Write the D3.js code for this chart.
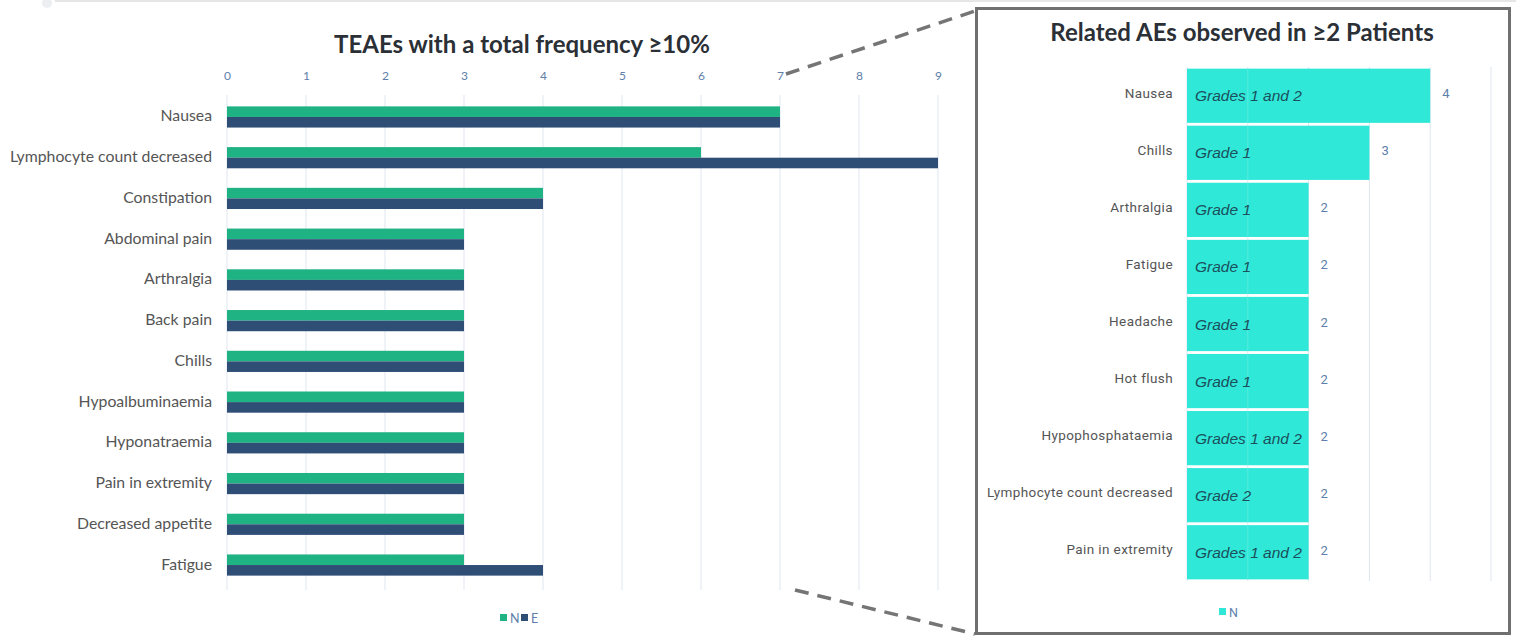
<!DOCTYPE html>
<html>
<head>
<meta charset="utf-8">
<script src="https://cdn.jsdelivr.net/npm/d3@7"></script>
<style>
  html, body { margin: 0; padding: 0; background: #fff; }
  svg { display: block; }
</style>
</head>
<body>
<svg id="chart" width="1516" height="637"></svg>
<script>
// ---- Left chart: TEAEs with a total frequency >= 10% ----
const teaeCategories = ["Nausea", "Lymphocyte count decreased", "Constipation", "Abdominal pain",
  "Arthralgia", "Back pain", "Chills", "Hypoalbuminaemia", "Hyponatraemia",
  "Pain in extremity", "Decreased appetite", "Fatigue"];
const teaeN = [7, 6, 4, 3, 3, 3, 3, 3, 3, 3, 3, 3];
const teaeE = [7, 9, 4, 3, 3, 3, 3, 3, 3, 3, 3, 4];
const teaeTicks = [0, 1, 2, 3, 4, 5, 6, 7, 8, 9];
const teaeSeries = ["N", "E"];

// ---- Right chart: Related AEs observed in >= 2 patients ----
const relCategories = ["Nausea", "Chills", "Arthralgia", "Fatigue", "Headache", "Hot flush",
  "Hypophosphataemia", "Lymphocyte count decreased", "Pain in extremity"];
const relN = [4, 3, 2, 2, 2, 2, 2, 2, 2];
const relGrades = ["Grades 1 and 2", "Grade 1", "Grade 1", "Grade 1", "Grade 1", "Grade 1",
  "Grades 1 and 2", "Grade 2", "Grades 1 and 2"];
const relTicks = [0, 1, 2, 3, 4, 5];

const colN = "#1fb283";
const colE = "#2f4e76";
const colRel = "#30e8d8";
const gridCol = "#dfe5ee";
const tickCol = "#5e80aa";
const labelCol = "#555";

const svg = d3.select("#chart");

// faint header rule along the top edge
svg.append("line").attr("x1", 55).attr("x2", 1516).attr("y1", 1).attr("y2", 1)
  .attr("stroke", "#e6e6e6").attr("stroke-width", 2);
svg.append("circle").attr("cx", 47).attr("cy", 3).attr("r", 5).attr("fill", "#eceef2");

// ---------- left chart ----------
const xL = d3.scaleLinear().domain([0, 9]).range([227, 938]);
const yL = d3.scaleBand().domain(teaeCategories).range([96.6, 585.4]).paddingInner(0.48).paddingOuter(0.24);
const ySub = d3.scaleBand().domain(teaeSeries).range([0, yL.bandwidth()]);

const gL = svg.append("g");
gL.append("g").selectAll("line").data(teaeTicks).join("line")
  .attr("x1", d => xL(d)).attr("x2", d => xL(d))
  .attr("y1", 95).attr("y2", 590)
  .attr("stroke", gridCol).attr("stroke-width", 1);

const axisTop = d3.axisTop(xL).tickValues(teaeTicks).tickSize(0).tickPadding(0);
gL.append("g").attr("transform", "translate(0,80)").call(axisTop)
  .call(g => g.select(".domain").remove())
  .selectAll("text").attr("fill", tickCol).attr("font-size", 12).attr("font-family", "Lato, sans-serif");

const rowsL = teaeCategories.map((c, i) => ({ c, N: teaeN[i], E: teaeE[i] }));
const grp = gL.append("g").selectAll("g").data(rowsL).join("g")
  .attr("transform", d => `translate(0,${yL(d.c)})`);
grp.selectAll("rect").data(d => teaeSeries.map(s => ({ s, v: d[s] }))).join("rect")
  .attr("x", xL(0)).attr("y", d => ySub(d.s))
  .attr("width", d => xL(d.v) - xL(0)).attr("height", ySub.bandwidth())
  .attr("fill", d => d.s === "N" ? colN : colE);

gL.append("g").selectAll("text").data(teaeCategories).join("text")
  .attr("x", 212).attr("y", d => yL(d) + yL.bandwidth() / 2 - 2)
  .attr("text-anchor", "end").attr("dominant-baseline", "central")
  .attr("font-family", "Lato, sans-serif").attr("font-size", 15.8).attr("fill", labelCol)
  .text(d => d);

gL.append("text").attr("x", 522).attr("y", 53).attr("text-anchor", "middle")
  .attr("font-family", "Lato, sans-serif").attr("font-weight", "bold").attr("font-size", 24)
  .attr("fill", "#2b2f36").text("TEAEs with a total frequency \u226510%");

// left legend
const legL = gL.append("g").attr("transform", "translate(500,618)");
teaeSeries.forEach((s, i) => {
  const lg = legL.append("g").attr("transform", `translate(${i * 21},0)`);
  lg.append("rect").attr("x", 0).attr("y", -4).attr("width", 7).attr("height", 7)
    .attr("fill", s === "N" ? colN : colE);
  lg.append("text").attr("x", 10).attr("y", 0).attr("dominant-baseline", "central")
    .attr("font-family", "Lato, sans-serif").attr("font-size", 12.5).attr("fill", tickCol).text(s);
});

// ---------- dashed connectors ----------
svg.append("line").attr("x1", 786).attr("y1", 74).attr("x2", 975).attr("y2", 11)
  .attr("stroke", "#757575").attr("stroke-width", 3.5).attr("stroke-dasharray", "14,9");
svg.append("line").attr("x1", 795).attr("y1", 590).attr("x2", 975).attr("y2", 634)
  .attr("stroke", "#757575").attr("stroke-width", 3.5).attr("stroke-dasharray", "14,9");

// ---------- right panel ----------
svg.append("rect").attr("x", 976.5).attr("y", 8.5).attr("width", 533).attr("height", 625)
  .attr("fill", "#fff").attr("stroke", "#707070").attr("stroke-width", 3);

const xR = d3.scaleLinear().domain([0, 5]).range([1187, 1491]);
const yR = d3.scaleBand().domain(relCategories).range([67.5, 580.5]).paddingInner(0.05).paddingOuter(0.02);
const gR = svg.append("g");

gR.append("g").selectAll("line").data(relTicks).join("line")
  .attr("x1", d => xR(d)).attr("x2", d => xR(d))
  .attr("y1", 67).attr("y2", 581)
  .attr("stroke", gridCol).attr("stroke-width", 1);

const rowsR = relCategories.map((c, i) => ({ c, v: relN[i], g: relGrades[i] }));
gR.append("g").selectAll("rect").data(rowsR).join("rect")
  .attr("x", xR(0)).attr("y", d => yR(d.c))
  .attr("width", d => xR(d.v) - xR(0)).attr("height", yR.bandwidth())
  .attr("fill", colRel);

// faint gridline showing through bars
gR.append("g").selectAll("line").data(rowsR.filter(d => d.v > 1)).join("line")
  .attr("x1", xR(1)).attr("x2", xR(1))
  .attr("y1", d => yR(d.c)).attr("y2", d => yR(d.c) + yR.bandwidth())
  .attr("stroke", "#ffffff").attr("stroke-opacity", 0.18);

gR.append("g").selectAll("text").data(rowsR).join("text")
  .attr("x", xR(0) + 8).attr("y", d => yR(d.c) + yR.bandwidth() / 2)
  .attr("dominant-baseline", "central")
  .attr("font-family", "'Liberation Sans', Arial, sans-serif").attr("font-style", "italic").attr("font-size", 15.5)
  .attr("fill", "#1b4f5c").text(d => d.g);

gR.append("g").selectAll("text").data(rowsR).join("text")
  .attr("x", d => xR(d.v) + 12).attr("y", d => yR(d.c) + yR.bandwidth() / 2 - 2)
  .attr("dominant-baseline", "central")
  .attr("font-family", "Roboto, sans-serif").attr("font-size", 13).attr("fill", tickCol)
  .text(d => d.v);

gR.append("g").selectAll("text").data(relCategories).join("text")
  .attr("x", 1173).attr("y", d => yR(d) + yR.bandwidth() / 2 - 3)
  .attr("text-anchor", "end").attr("dominant-baseline", "central")
  .attr("font-family", "Roboto, sans-serif").attr("font-size", 13.5).attr("fill", labelCol)
  .attr("letter-spacing", 0.4)
  .text(d => d);

gR.append("text").attr("x", 1242).attr("y", 41).attr("text-anchor", "middle")
  .attr("font-family", "Lato, sans-serif").attr("font-weight", "bold").attr("font-size", 24)
  .attr("fill", "#2b2f36").text("Related AEs observed in  \u22652 Patients");

const legR = gR.append("g").attr("transform", "translate(1219,612)");
legR.append("rect").attr("x", 0).attr("y", -4).attr("width", 7).attr("height", 7).attr("fill", colRel);
legR.append("text").attr("x", 10).attr("y", 0).attr("dominant-baseline", "central")
  .attr("font-family", "Roboto, sans-serif").attr("font-size", 12.5).attr("fill", tickCol).text("N");
</script>
</body>
</html>
